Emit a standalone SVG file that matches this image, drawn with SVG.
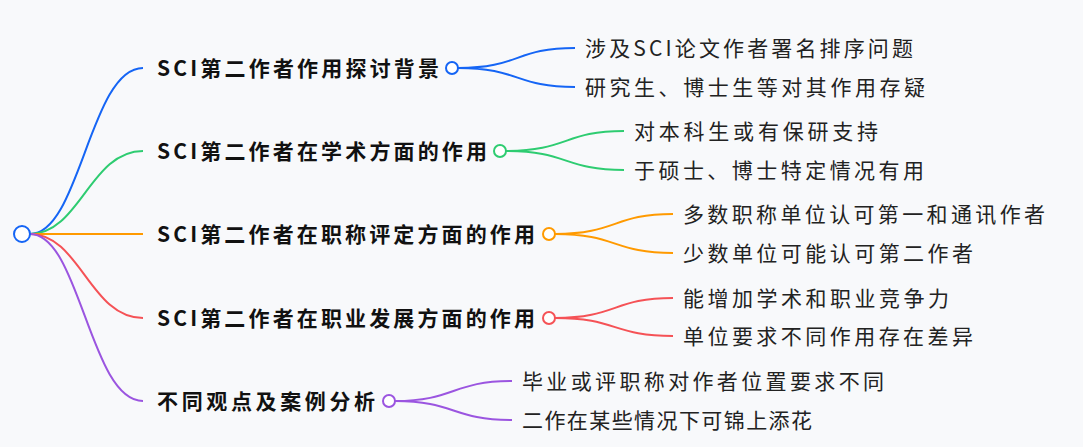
<svg xmlns="http://www.w3.org/2000/svg" width="1083" height="447" viewBox="0 0 1083 447">
<style>
.n{font-family:"Noto Sans CJK SC",sans-serif;font-weight:bold;font-size:21px;fill:#111}
.c{font-family:"Noto Sans CJK SC",sans-serif;font-size:21px;fill:#222}
path{fill:none;stroke-width:2}
circle{fill:#fff;stroke-width:2}
</style>
<rect width="1083" height="447" fill="#f8f9fb"/>
<g id="connectors">
<path d="M30 234C80 234 90 68 143 68" stroke="#1565f5"/>
<path d="M30 234C80 234 90 151 143 151" stroke="#2ecc71"/>
<path d="M30 234H143" stroke="#ff9a00"/>
<path d="M30 234C80 234 90 318 143 318" stroke="#f55256"/>
<path d="M30 234C80 234 90 401 143 401" stroke="#9b55e0"/>
<path d="M458 68C520 68 515 48 575 48M458 68C520 68 515 87 575 87" stroke="#1565f5"/>
<path d="M506 151C568 151 564 131 624 131M506 151C568 151 564 170 624 170" stroke="#2ecc71"/>
<path d="M555 234C617 234 613 214 673 214M555 234C617 234 613 253 673 253" stroke="#ff9a00"/>
<path d="M555 318C617 318 613 298 673 298M555 318C617 318 613 336 673 336" stroke="#f55256"/>
<path d="M395 401C455 401 452 381 512 381M395 401C455 401 452 420 512 420" stroke="#9b55e0"/>
</g>
<g id="root"><circle cx="22" cy="234" r="8" stroke="#1565f5"/></g>
<g id="n1"><text class="n" x="157" y="76" textLength="282">SCI第二作者作用探讨背景</text><circle cx="452" cy="68" r="6" stroke="#1565f5"/></g>
<g id="n2"><text class="n" x="157" y="159" textLength="330">SCI第二作者在学术方面的作用</text><circle cx="500" cy="151" r="6" stroke="#2ecc71"/></g>
<g id="n3"><text class="n" x="157" y="242" textLength="378">SCI第二作者在职称评定方面的作用</text><circle cx="549" cy="234" r="6" stroke="#ff9a00"/></g>
<g id="n4"><text class="n" x="157" y="326" textLength="378">SCI第二作者在职业发展方面的作用</text><circle cx="549" cy="318" r="6" stroke="#f55256"/></g>
<g id="n5"><text class="n" x="157" y="409" textLength="218">不同观点及案例分析</text><circle cx="389" cy="401" r="6" stroke="#9b55e0"/></g>
<g id="c1"><text class="c" x="585" y="56" textLength="328">涉及SCI论文作者署名排序问题</text></g>
<g id="c2"><text class="c" x="585" y="95" textLength="340">研究生、博士生等对其作用存疑</text></g>
<g id="c3"><text class="c" x="634" y="139" textLength="244">对本科生或有保研支持</text></g>
<g id="c4"><text class="c" x="634" y="178" textLength="290">于硕士、博士特定情况有用</text></g>
<g id="c5"><text class="c" x="683" y="222" textLength="362">多数职称单位认可第一和通讯作者</text></g>
<g id="c6"><text class="c" x="683" y="261" textLength="290">少数单位可能认可第二作者</text></g>
<g id="c7"><text class="c" x="683" y="306" textLength="266">能增加学术和职业竞争力</text></g>
<g id="c8"><text class="c" x="683" y="344" textLength="290">单位要求不同作用存在差异</text></g>
<g id="c9"><text class="c" x="522" y="389" textLength="362">毕业或评职称对作者位置要求不同</text></g>
<g id="c10"><text class="c" x="522" y="428" textLength="290">二作在某些情况下可锦上添花</text></g>
</svg>
